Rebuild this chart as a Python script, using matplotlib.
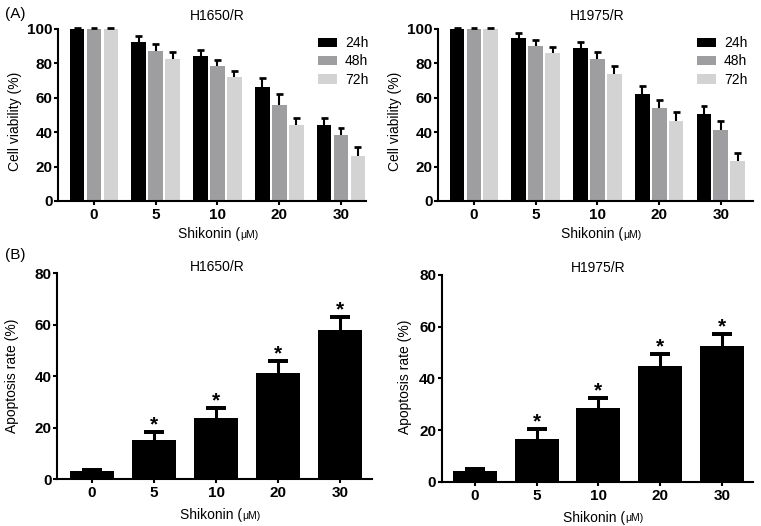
import matplotlib
matplotlib.use("Agg")
import matplotlib.pyplot as plt
import numpy as np

plt.rcParams["font.family"] = ["Liberation Sans", "DejaVu Sans"]

doses = ["0", "5", "10", "20", "30"]
hours = ["24h", "48h", "72h"]
bar_colors = ["#000000", "#9e9ea0", "#d3d3d3"]

# cell viability (%), H1650/R
h1650_via = [
    [100, 92.5, 84.5, 66.0, 44.0],
    [100, 87.5, 78.5, 56.0, 38.3],
    [100, 82.5, 72.0, 44.0, 26.0],
]
h1650_via_err = [
    [0.6, 3.3, 3.3, 5.6, 4.4],
    [0.6, 3.8, 3.2, 6.0, 4.0],
    [0.6, 4.3, 3.7, 4.2, 5.6],
]
# cell viability (%), H1975/R
h1975_via = [
    [100, 94.8, 88.8, 62.0, 50.4],
    [100, 90.3, 82.5, 54.0, 41.5],
    [100, 85.8, 73.8, 46.8, 23.0],
]
h1975_via_err = [
    [0.5, 2.7, 3.9, 4.9, 4.6],
    [0.6, 3.4, 3.9, 4.6, 5.0],
    [0.6, 4.0, 4.4, 5.0, 4.8],
]
# apoptosis rate (%)
h1650_apo = [3.3, 15.4, 23.9, 41.4, 58.0]
h1650_apo_err = [0.5, 3.0, 3.7, 4.6, 5.0]
h1975_apo = [4.3, 16.5, 28.4, 44.9, 52.7]
h1975_apo_err = [0.5, 3.8, 4.1, 4.5, 4.4]
signif = ["", "*", "*", "*", "*"]

W, H = 761, 526
fig = plt.figure(figsize=(W / 100, H / 100), dpi=100)


def px_axes(l, t, r, b):
    return fig.add_axes([l / W, 1 - b / H, (r - l) / W, (b - t) / H])


def style_axes(ax, xlim, ymax):
    for s in ("top", "right"):
        ax.spines[s].set_visible(False)
    for s in ("left", "bottom"):
        ax.spines[s].set_linewidth(1.5)
    ax.set_xlim(*xlim)
    ax.set_ylim(0, ymax)
    ax.set_yticks(np.arange(0, ymax + 1, 20))
    ax.set_xticks(np.arange(len(doses)))
    ax.set_xticklabels(doses)
    ax.tick_params(axis="both", length=3, width=1.5, labelsize=11)
    ax.tick_params(axis="y", pad=1)
    ax.tick_params(axis="x", pad=2)
    for lab in ax.get_xticklabels() + ax.get_yticklabels():
        lab.set_fontweight("bold")


def up_err(ax, x, y, e, half, lw):
    ax.vlines(x, y, np.asarray(y) + np.asarray(e), color="black", lw=lw, clip_on=False, zorder=3)
    ax.hlines(np.asarray(y) + np.asarray(e), np.asarray(x) - half, np.asarray(x) + half,
              color="black", lw=lw * 1.3, clip_on=False, zorder=3)


def xlabel(ax, dy):
    t = ax.annotate("Shikonin (", xy=(0.5, 0), xycoords="axes fraction",
                    xytext=(20, -dy), textcoords="offset points",
                    ha="right", va="center", fontsize=10)
    ax.annotate("\u03bcM)", xy=(1, 0.12), xycoords=t, ha="left", va="bottom", fontsize=7.5)


def viability(ax, vals, errs, xlim, title, tx, leg_x):
    x = np.arange(len(doses))
    for i in range(3):
        xi = x + (i - 1) * 0.274
        ax.bar(xi, vals[i], width=0.24, color=bar_colors[i], label=hours[i], clip_on=False, zorder=2)
        up_err(ax, xi, vals[i], errs[i], 0.056, 1.5)
    style_axes(ax, xlim, 100)
    ax.legend(loc="upper right", bbox_to_anchor=(leg_x, 0.99), frameon=False, fontsize=10,
              handlelength=1.35, handleheight=0.7, labelspacing=0.3, handletextpad=0.6,
              borderaxespad=0)
    xlabel(ax, 24)
    fig.text(tx / W, 1 - 16 / H, title, ha="center", va="center", fontsize=10)


def apoptosis(ax, vals, errs, xlim, title, tx, ty):
    x = np.arange(len(doses))
    ax.bar(x, vals, width=0.71, color="black", zorder=2)
    up_err(ax, x, vals, errs, 0.16, 2.2)
    for xi, v, e, s in zip(x, vals, errs, signif):
        ax.annotate(s, xy=(xi, v + e), xytext=(0, 1), textcoords="offset points",
                    ha="center", va="baseline", fontsize=15, fontweight="bold")
    style_axes(ax, xlim, 80)
    xlabel(ax, 26)
    fig.text(tx / W, 1 - ty / H, title, ha="center", va="center", fontsize=10)


ax_tl = px_axes(58, 29, 366, 201)
ax_tr = px_axes(438, 29, 753, 201)
ax_bl = px_axes(57, 273.3, 372, 479.3)
ax_br = px_axes(441.7, 275, 753, 481.7)

viability(ax_tl, h1650_via, h1650_via_err, (-0.583, 4.405), "H1650/R", 217, 1.026)
viability(ax_tr, h1975_via, h1975_via_err, (-0.583, 4.52), "H1975/R", 597, 1.0)
apoptosis(ax_bl, h1650_apo, h1650_apo_err, (-0.565, 4.516), "H1650/R", 217, 267)
apoptosis(ax_br, h1975_apo, h1975_apo_err, (-0.54, 4.507), "H1975/R", 598, 268)

fig.text(15 / W, 1 - 121 / H, "Cell viability (%)", rotation=90, ha="center", va="center", fontsize=10)
fig.text(395 / W, 1 - 121 / H, "Cell viability (%)", rotation=90, ha="center", va="center", fontsize=10)
fig.text(12 / W, 1 - 376 / H, "Apoptosis rate (%)", rotation=90, ha="center", va="center", fontsize=10)
fig.text(405 / W, 1 - 377 / H, "Apoptosis rate (%)", rotation=90, ha="center", va="center", fontsize=10)

fig.text(5 / W, 1 - 14 / H, "(A)", ha="left", va="center", fontsize=11)
fig.text(5 / W, 1 - 255 / H, "(B)", ha="left", va="center", fontsize=11)

fig.savefig("out.png", dpi=100)
